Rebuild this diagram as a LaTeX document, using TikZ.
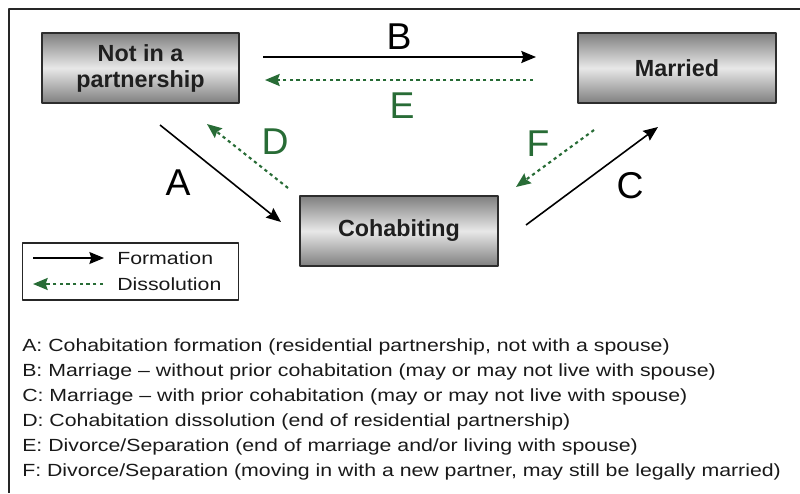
\documentclass[tikz,border=0pt]{standalone}
\usepackage{fontspec}
\setmainfont{Liberation Sans}
\newfontfamily\widesans[FakeStretch=1.21, Ligatures=TeX]{Liberation Sans}
\usetikzlibrary{arrows.meta}
\definecolor{dgreen}{RGB}{40,108,54}
\definecolor{boxedge}{RGB}{45,45,45}
\definecolor{boxdark}{RGB}{128,128,128}
\definecolor{boxlight}{RGB}{232,232,232}
\tikzset{
	state/.style={draw=boxedge, line width=1.5pt, top color=boxdark, bottom color=boxdark, middle color=boxlight,
		minimum width=148pt, minimum height=52pt, align=center, text=black!88,
		font=\fontsize{17.5}{19.5}\selectfont\bfseries},
	form/.style={->, line width=1.2pt},
	diss/.style={->, dgreen, line width=1.6pt, dash pattern=on 2.4pt off 2.6pt},
	tlabel/.style={font=\fontsize{28}{30}\selectfont},
	note/.style={anchor=base west, font=\widesans\fontsize{13.2}{15}\selectfont, text=black!90, inner sep=0pt}
}
\begin{document}
\begin{tikzpicture}[x=0.75pt, y=-0.75pt, >={Stealth[length=11pt, width=9pt, inset=1.5pt]}, line join=round]
	\useasboundingbox (0,0) rectangle (800,493);
	% frame
	\draw[line width=1.6pt, black!85] (800,9) -- (9,9) -- (9,493);
	% states
	\node[state] (none) at (140.5,68) {Not in a\\partnership};
	\node[state] (mar) at (677,68) {Married};
	\node[state] (coh) at (399,231) {Cohabiting};
	% arrow ends
	\coordinate (b1) at (263,57); \coordinate (b2) at (536,57);
	\coordinate (e1) at (533,80); \coordinate (e2) at (265,80);
	\coordinate (a1) at (160,125); \coordinate (a2) at (281,222);
	\coordinate (d1) at (288,188); \coordinate (d2) at (207,124);
	\coordinate (c1) at (526,225); \coordinate (c2) at (658,127);
	\coordinate (f1) at (594,130); \coordinate (f2) at (516,187);
	\draw[form] (b1) -- (b2);
	\draw[diss] (e1) -- (e2);
	\draw[form] (a1) -- (a2);
	\draw[diss] (d1) -- (d2);
	\draw[form] (c1) -- (c2);
	\draw[diss] (f1) -- (f2);
	% letters
	\node[tlabel] (lB) at (399,37) {B};
	\node[tlabel, dgreen] (lE) at (402,106) {E};
	\node[tlabel] (lA) at (178,183) {A};
	\node[tlabel, dgreen] (lD) at (275,142) {D};
	\node[tlabel] (lC) at (630,186) {C};
	\node[tlabel, dgreen] (lF) at (538,144) {F};
	% legend
	\node[draw=black!85, line width=1.1pt, minimum width=162pt, minimum height=42.5pt, inner sep=0pt] (leg) at (130.5,271.5) {};
	\coordinate (g1) at (33,258); \coordinate (g2) at (104,258);
	\coordinate (h1) at (103,284); \coordinate (h2) at (33,284);
	\draw[form, line width=1pt] (g1) -- (g2);
	\draw[diss, line width=1.4pt] (h1) -- (h2);
	\node[note] (fm) at (117,264.5) {Formation};
	\node[note] (ds) at (117,290.5) {Dissolution};
	% key
	\foreach \t [count=\i] in {%
		{A: Cohabitation formation (residential partnership, not with a spouse)},
		{B: Marriage – without prior cohabitation (may or may not live with spouse)},
		{C: Marriage – with prior cohabitation (may or may not live with spouse)},
		{D: Cohabitation dissolution (end of residential partnership)},
		{E: Divorce/Separation (end of marriage and/or living with spouse)},
		{F: Divorce/Separation (moving in with a new partner, may still be legally married)}}
		\node[note] (k\i) at (22,326.7+25*\i) {\t};
\end{tikzpicture}
\end{document}
